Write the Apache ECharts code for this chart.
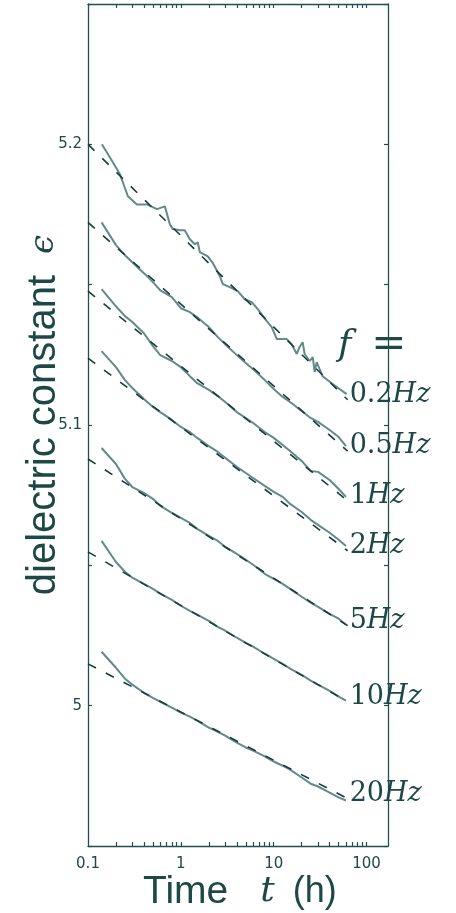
<!DOCTYPE html>
<html>
<head>
<meta charset="utf-8">
<script src="https://cdn.jsdelivr.net/npm/echarts@6/dist/echarts.min.js"></script>
<style>
html,body{margin:0;padding:0;background:#fff;}
#chart{width:456px;height:913px;}
</style>
</head>
<body>
<div id="chart"></div>
<script>
// ---- data ----
const timeGrid = [0.14, 0.2, 0.25, 0.3, 0.4, 0.5, 0.6, 0.8, 1, 1.25, 1.5, 2, 2.5, 3, 4, 5, 6, 8, 10, 12.5, 15, 20, 25, 30, 40, 50, 60];

const time02 = [0.141, 0.177, 0.221, 0.269, 0.336, 0.431, 0.552, 0.673, 0.761, 0.820, 0.975, 1.10, 1.25, 1.41, 1.52, 1.60, 1.95, 2.21, 2.63, 2.83, 3.36, 4.10, 4.88, 5.80, 6.73, 8.41, 9.52, 10.8, 13.8, 15.6, 17.7, 19.0, 20.5, 21.5, 24.4, 26.3, 27.6, 29.0, 33.6, 43.1, 61.0];
const eps02 = [5.2000, 5.1947, 5.1893, 5.1815, 5.1786, 5.1786, 5.1769, 5.1779, 5.1715, 5.1698, 5.1694, 5.1694, 5.1662, 5.1644, 5.1651, 5.1616, 5.1601, 5.1577, 5.1530, 5.1502, 5.1491, 5.1477, 5.1448, 5.1438, 5.1413, 5.1370, 5.1349, 5.1306, 5.1306, 5.1288, 5.1253, 5.1278, 5.1295, 5.1253, 5.1228, 5.1242, 5.1189, 5.1224, 5.1174, 5.1146, 5.1110];

const eps05 = [5.1722, 5.1641, 5.1605, 5.1580, 5.1541, 5.1509, 5.1480, 5.1456, 5.1416, 5.1402, 5.1384, 5.1349, 5.1313, 5.1288, 5.1249, 5.1221, 5.1199, 5.1160, 5.1128, 5.1100, 5.1082, 5.1050, 5.1025, 5.1011, 5.0982, 5.0957, 5.0925];
const eps1 = [5.1484, 5.1423, 5.1388, 5.1367, 5.1327, 5.1281, 5.1249, 5.1228, 5.1206, 5.1174, 5.1149, 5.1125, 5.1103, 5.1082, 5.1046, 5.1025, 5.1007, 5.0975, 5.0954, 5.0929, 5.0907, 5.0872, 5.0836, 5.0833, 5.0804, 5.0772, 5.0744];
const eps2 = [5.1263, 5.1206, 5.1160, 5.1132, 5.1093, 5.1064, 5.1046, 5.1018, 5.0993, 5.0975, 5.0954, 5.0925, 5.0904, 5.0883, 5.0851, 5.0829, 5.0811, 5.0783, 5.0762, 5.0744, 5.0719, 5.0690, 5.0662, 5.0644, 5.0616, 5.0591, 5.0569];
const eps5 = [5.0918, 5.0861, 5.0808, 5.0779, 5.0758, 5.0737, 5.0712, 5.0687, 5.0669, 5.0651, 5.0630, 5.0605, 5.0587, 5.0566, 5.0541, 5.0520, 5.0502, 5.0470, 5.0452, 5.0434, 5.0416, 5.0388, 5.0367, 5.0352, 5.0327, 5.0310, 5.0288];
const eps10 = [5.0587, 5.0512, 5.0477, 5.0456, 5.0434, 5.0416, 5.0399, 5.0377, 5.0356, 5.0338, 5.0324, 5.0302, 5.0281, 5.0267, 5.0242, 5.0224, 5.0210, 5.0185, 5.0167, 5.0149, 5.0132, 5.0110, 5.0089, 5.0075, 5.0053, 5.0032, 5.0018];
const eps20 = [5.0192, 5.0135, 5.0096, 5.0075, 5.0046, 5.0028, 5.0014, 4.9993, 4.9975, 4.9961, 4.9947, 4.9922, 4.9907, 4.9893, 4.9868, 4.9851, 4.9840, 4.9819, 4.9801, 4.9786, 4.9772, 4.9744, 4.9722, 4.9712, 4.9690, 4.9673, 4.9662];

// logarithmic fits (dashed lines)
const fitTime = [0.1, 62.5];
const fit02 = [5.2000, 5.1090];
const fit05 = [5.1722, 5.0907];
const fit1  = [5.1477, 5.0730];
const fit2  = [5.1238, 5.0552];
const fit5  = [5.0879, 5.0285];
const fit10 = [5.0548, 5.0014];
const fit20 = [5.0149, 4.9669];

const freqLabels = ['0.2', '0.5', '1', '2', '5', '10', '20'];

const xTickValues = [0.2,0.3,0.4,0.5,0.6,0.7,0.8,0.9,1,2,3,4,5,6,7,8,9,10,20,30,40,50,60,70,80,90,100];
const xLabelValues = [0.1, 1, 10, 100];
const yLabelValues = [5, 5.1, 5.2];

// ---- build ----
const measured = [
  [time02, eps02],
  [timeGrid, eps05],
  [timeGrid, eps1],
  [timeGrid, eps2],
  [timeGrid, eps5],
  [timeGrid, eps10],
  [timeGrid, eps20]
];
const fits = [fit02, fit05, fit1, fit2, fit5, fit10, fit20];

const AX = '#21504e';
const TXT = '#1d4846';
const SOLID = '#628a88';
const DASH = '#183c3a';

const zip = (t, v) => t.map((x, i) => [x, v[i]]);

const series = [];
measured.forEach((m, i) => {
  series.push({
    type: 'line', name: freqLabels[i] + 'Hz data',
    data: zip(m[0], m[1]), showSymbol: false, symbol: 'none',
    lineStyle: {color: SOLID, width: 2}, z: 2, silent: true
  });
});
fits.forEach((f, i) => {
  series.push({
    type: 'line', name: freqLabels[i] + 'Hz fit',
    data: zip(fitTime, f), showSymbol: false, symbol: 'none',
    lineStyle: {color: DASH, width: 1.6, type: [9, 11]}, z: 3, silent: true,
    endLabel: {
      show: true,
      distance: 2,
      offset: [0, -5],
      formatter: () => '{n|' + freqLabels[i] + '}{u|Hz}',
      rich: {
        n: {fontFamily: 'DejaVu Serif', fontSize: 27, color: TXT},
        u: {fontFamily: 'DejaVu Serif', fontStyle: 'italic', fontSize: 27, color: TXT}
      }
    }
  });
});

const xBase = {
  type: 'log', logBase: 10, min: 0.1, max: 170,
  axisLine: {show: true, lineStyle: {color: AX, width: 1.3}},
  splitLine: {show: false}
};
const yBase = {
  type: 'value', min: 4.95, max: 5.25, interval: 0.05,
  axisLine: {show: true, lineStyle: {color: AX, width: 1.3}},
  splitLine: {show: false}
};

const chart = echarts.init(document.getElementById('chart'), null, {renderer: 'canvas'});
chart.setOption({
  animation: false,
  backgroundColor: '#ffffff',
  grid: {left: 88, right: 68, top: 4, bottom: 67, containLabel: false},
  xAxis: [
    Object.assign({}, xBase, {
      position: 'bottom',
      axisTick: {show: true, inside: true, length: 4, lineStyle: {color: AX, width: 1.2}, customValues: xTickValues},
      axisLabel: {show: true, margin: 11, customValues: xLabelValues, fontFamily: 'DejaVu Sans', fontSize: 15, color: TXT,
        formatter: v => String(v)}
    }),
    Object.assign({}, xBase, {
      position: 'top',
      axisTick: {show: true, inside: true, length: 4, lineStyle: {color: AX, width: 1.2}, customValues: xTickValues},
      axisLabel: {show: false}
    })
  ],
  yAxis: [
    Object.assign({}, yBase, {
      position: 'left',
      axisTick: {show: true, inside: true, length: 4, lineStyle: {color: AX, width: 1.2}},
      axisLabel: {show: true, margin: 6, customValues: yLabelValues, fontFamily: 'DejaVu Sans', fontSize: 15, color: TXT,
        formatter: v => String(+(+v).toFixed(1))}
    }),
    Object.assign({}, yBase, {
      position: 'right',
      axisTick: {show: true, inside: true, length: 4, lineStyle: {color: AX, width: 1.2}},
      axisLabel: {show: false}
    })
  ],
  graphic: [
    {
      type: 'text', x: 44, y: 415, rotation: Math.PI / 2,
      style: {
        text: 'dielectric constant {e|ϵ}',
        font: '40px "Liberation Sans"', fill: TXT,
        align: 'center', verticalAlign: 'middle',
        rich: {e: {fontFamily: 'DejaVu Serif', fontStyle: 'italic', fontSize: 34, fill: TXT, padding: [0, 0, 0, 10]}}
      }
    },
    {
      type: 'text', x: 143, y: 892,
      style: {
        text: '{a|Time}{t|t}{b|(h)}',
        fill: TXT, align: 'left', verticalAlign: 'middle',
        rich: {
          a: {fontFamily: 'Liberation Sans', fontSize: 39, fill: TXT, padding: [0, 32, 0, 0]},
          t: {fontFamily: 'DejaVu Serif', fontStyle: 'italic', fontSize: 36, fill: TXT, padding: [0, 18, 0, 0]},
          b: {fontFamily: 'Liberation Sans', fontSize: 36, fill: TXT}
        }
      }
    },
    {
      type: 'text', x: 338, y: 346,
      style: {
        text: '{f|f}{q|=}',
        fill: TXT, align: 'left', verticalAlign: 'middle',
        rich: {
          f: {fontFamily: 'DejaVu Serif', fontStyle: 'italic', fontSize: 36, fill: TXT, padding: [0, 20, 0, 0]},
          q: {fontFamily: 'DejaVu Serif', fontSize: 42, fill: TXT}
        }
      }
    }
  ],
  series: series
});
</script>
</body>
</html>
